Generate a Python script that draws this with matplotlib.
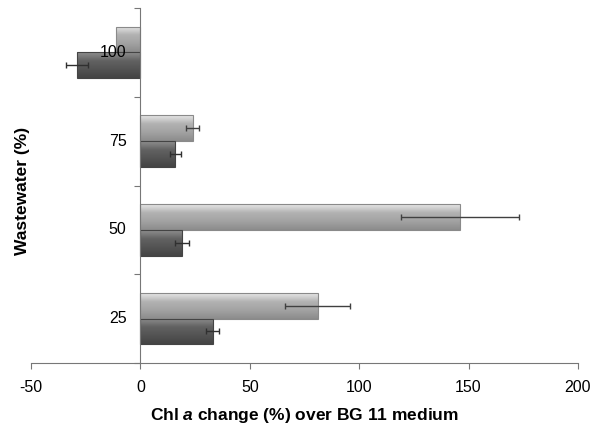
import matplotlib
matplotlib.use("Agg")
import matplotlib.pyplot as plt
import numpy as np
from matplotlib.colors import LinearSegmentedColormap

plt.rcParams['font.family'] = ['Liberation Sans', 'DejaVu Sans']
plt.rcParams['mathtext.fontset'] = 'custom'
plt.rcParams['mathtext.it'] = 'Liberation Sans:bold:italic'
plt.rcParams['mathtext.rm'] = 'Liberation Sans:bold'

categories = ['25', '50', '75', '100']
light_vals = [81, 146, 24, -11]
light_err = [15, 27, 3, 0]
dark_vals = [33, 19, 16, -29]
dark_err = [3, 3, 2.5, 5]
xticks = [-50, 0, 50, 100, 150, 200]

fig = plt.figure(figsize=(5.97, 4.24), dpi=100)
ax = fig.add_axes([0.052, 0.144, 0.916, 0.837])

centers = np.arange(len(categories)) + 0.5
h = 0.29
light_cmap = LinearSegmentedColormap.from_list('l', ['#8c8c8c', '#a2a2a2', '#b2b2b2', '#e6e6e6'])
dark_cmap = LinearSegmentedColormap.from_list('d', ['#444444', '#535353', '#626262', '#8e8e8e'])
grad = np.linspace(0, 1, 64).reshape(-1, 1)


def gradient_bars(ys, vals, cmap, edge):
    bars = ax.barh(ys, vals, height=h, color='none', edgecolor=edge, linewidth=0.8, zorder=3)
    for b in bars:
        x0, y0 = b.get_x(), b.get_y()
        w, hh = b.get_width(), b.get_height()
        im = ax.imshow(grad, cmap=cmap, aspect='auto', origin='lower',
                       extent=[x0, x0 + w, y0, y0 + hh], zorder=2)
        im.set_clip_path(b)


gradient_bars(centers + 0.145, light_vals, light_cmap, '#8a8a8a')
gradient_bars(centers - 0.145, dark_vals, dark_cmap, '#444444')

le = np.array(light_err, dtype=float)
mask = le > 0
ax.errorbar(np.array(light_vals)[mask], (centers + 0.145)[mask], xerr=le[mask], fmt='none',
            ecolor='#404040', elinewidth=1, capsize=2.5, capthick=1, zorder=4)
ax.errorbar(np.array(dark_vals), centers - 0.145, xerr=dark_err, fmt='none',
            ecolor='#303030', elinewidth=1, capsize=2.5, capthick=1, zorder=4)

ax.set_xlim(-50, 200)
ax.set_ylim(0, len(categories))
ax.set_xticks(xticks)
ax.set_xticklabels([str(t) for t in xticks], fontsize=11.5)

ax.set_yticks(np.arange(len(categories) + 1))
ax.set_yticklabels([])
ax.tick_params(axis='y', which='major', length=4, color='#777777')
ax.tick_params(axis='x', length=4, color='#777777', pad=8)

for c, lab in zip(centers, categories):
    ax.annotate(lab, xy=(0, c), xytext=(-10, 0), textcoords='offset points',
                ha='right', va='center', fontsize=11.5, zorder=10)

ax.spines['top'].set_visible(False)
ax.spines['right'].set_visible(False)
ax.spines['left'].set_position(('data', 0))
ax.spines['left'].set_color('#777777')
ax.spines['bottom'].set_color('#777777')
ax.spines['left'].set_zorder(5)

ax.set_xlabel(r'Chl $\mathit{a}$ change (%) over BG 11 medium', fontsize=12.5,
              fontweight='bold', labelpad=8)
fig.text(0.037, 0.55, 'Wastewater (%)', rotation=90, fontsize=12.5,
         fontweight='bold', ha='center', va='center')

fig.savefig('out.png', dpi=100)
